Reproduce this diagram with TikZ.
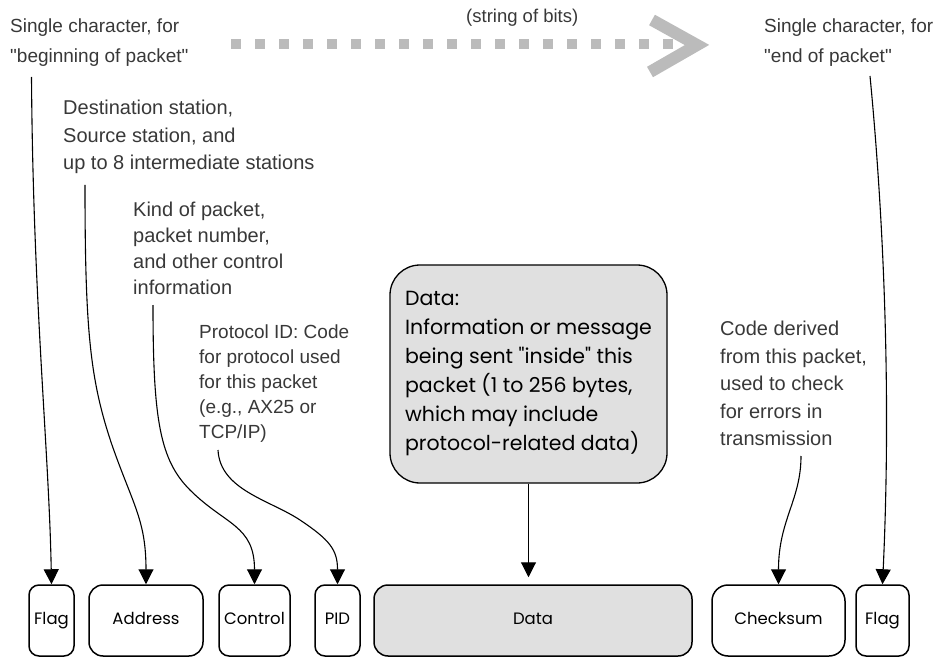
\documentclass[tikz,border=0pt]{standalone}
\usepackage{fontspec}
\setmainfont{Liberation Sans}
\newfontfamily\ann{Liberation Sans}
\newfontfamily\geo{Poppins}
\usetikzlibrary{arrows.meta}
\definecolor{boxgray}{RGB}{224,224,224}
\definecolor{bitgray}{RGB}{187,187,187}
\begin{document}
\begin{tikzpicture}[x=1pt,y=-1pt,
  annot/.style={anchor=north west, inner sep=0pt, align=left, text=black!78, font=\ann\fontsize{20}{27.5}\selectfont},
  field/.style={draw, line width=1.5pt, rounded corners=10pt, minimum height=71pt, inner sep=0pt,
                font=\geo\fontsize{16.5}{20}\selectfont, text height=12pt, text depth=4pt},
  conn/.style={line width=1.1pt, -{Triangle[length=15pt,width=15pt]}},
  bits/.style={bitgray, line width=10pt, dash pattern=on 10pt off 14pt},
  chevron/.style={bitgray, line width=12pt}
]
\useasboundingbox (0,0) rectangle (938,658);

% packet fields
\node[field, minimum width=45pt] (flagA) at (51.5,620.5) {Flag};
\node[field, minimum width=114pt, rounded corners=14pt] (addr) at (146,620.5) {Address};
\node[field, minimum width=71pt] (ctrl) at (254.5,620.5) {Control};
\node[field, minimum width=45pt] (pid) at (337.5,620.5) {PID};
\node[field, minimum width=318pt, fill=boxgray, rounded corners=14pt] (data) at (533,620.5) {Data};
\node[field, minimum width=133pt, rounded corners=16pt] (cks) at (778.5,620.5) {Checksum};
\node[field, minimum width=53pt] (flagB) at (882.5,620.5) {Flag};

% data description box
\node[draw, line width=1.3pt, fill=boxgray, rounded corners=30pt, minimum width=277pt, minimum height=218pt,
      align=left, font=\geo\fontsize{20.5}{29}\selectfont] (desc) at (528.5,374)
  {Data:\\Information or message\\being sent "inside" this\\packet (1 to 256 bytes,\\which may include\\protocol-related data)};

% annotations
\node[annot, font=\ann\fontsize{19}{30}\selectfont] (tflagA) at (10,18.5) {Single character, for\\"beginning of packet"};
\node[annot] (taddr) at (63,100) {Destination station,\\Source station, and\\up to 8 intermediate stations};
\node[annot, font=\ann\fontsize{20}{26}\selectfont] (tctrl) at (133,202) {Kind of packet,\\packet number,\\and other control\\information};
\node[annot, font=\ann\fontsize{19}{25}\selectfont] (tpid) at (199,324.5) {Protocol ID: Code\\for protocol used\\for this packet\\(e.g., AX25 or\\TCP/IP)};
\node[annot] (tcks) at (720,321) {Code derived\\from this packet,\\used to check\\for errors in\\transmission};
\node[annot, font=\ann\fontsize{19}{30}\selectfont] (tflagB) at (764,18.5) {Single character, for\\"end of packet"};
\node[anchor=base west, inner sep=0pt, text=black!78, font=\ann\fontsize{18.5}{22}\selectfont] (bitslabel) at (466,23) {(string of bits)};

% string of bits arrow
\coordinate (b0) at (231,44);
\coordinate (b1) at (673,44);
\draw[bits] (b0) -- (b1);
\coordinate (c0) at (652,20);
\coordinate (c1) at (697,45);
\coordinate (c2) at (650,72);
\draw[chevron] (c0) -- (c1) -- (c2);

% connector start points
\coordinate (sA) at (31.5,77);
\coordinate (sAddr) at (85,185);
\coordinate (sCtrl) at (153,305);
\coordinate (sPid) at (218,450);
\coordinate (sCks) at (801,456);
\coordinate (sB) at (870,76);

% connectors
\draw[conn] (sA) .. controls (33,300) and (49,450) .. (flagA.north);
\draw[conn] (sAddr) .. controls (85,330) and (90,380) .. (112,445) .. controls (133,505) and (146,520) .. (addr.north);
\draw[conn] (sCtrl) .. controls (153,420) and (160,460) .. (190,490) .. controls (225,525) and (254.5,525) .. (ctrl.north);
\draw[conn] (sPid) .. controls (220,490) and (270,500) .. (300,520) .. controls (330,540) and (337.5,550) .. (pid.north);
\draw[conn, shorten >=7pt] (desc.south) -- (desc.south |- data.north);
\draw[conn] (sCks) .. controls (801,500) and (778.5,520) .. (cks.north);
\draw[conn] (sB) .. controls (882,200) and (892,380) .. (flagB.north);
\end{tikzpicture}
\end{document}
